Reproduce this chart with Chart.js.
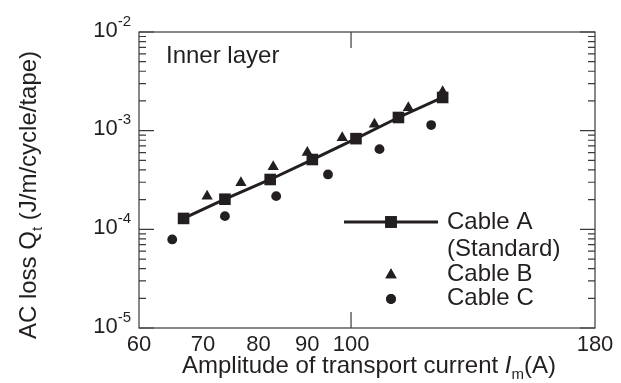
<!DOCTYPE html>
<html>
<head>
<meta charset="utf-8">
<script src="https://cdn.jsdelivr.net/npm/chart.js@4.4.1/dist/chart.umd.min.js"></script>
<style>
  html, body { margin: 0; padding: 0; background: #fff; }
</style>
</head>
<body>
<canvas id="grafica" width="621" height="383"></canvas>
<script>
// Cable A (Standard)
const cableA_I = [66.8, 73.8, 82.3, 91.1, 101.2, 112.1, 124.7];
const cableA_Q = [1.29e-4, 2.02e-4, 3.2e-4, 5.1e-4, 8.3e-4, 1.36e-3, 2.17e-3];
// Cable B
const cableB_I = [70.7, 76.7, 82.9, 90.0, 97.9, 105.8, 114.8, 124.7];
const cableB_Q = [2.17e-4, 2.97e-4, 4.3e-4, 6.0e-4, 8.5e-4, 1.16e-3, 1.71e-3, 2.48e-3];
// Cable C
const cableC_I = [65.0, 73.8, 83.5, 94.6, 107.1, 121.3];
const cableC_Q = [7.9e-5, 1.36e-4, 2.17e-4, 3.6e-4, 6.5e-4, 1.14e-3];

const xTickLabels = [60, 70, 80, 90, 100, 180];
const xMajorTicks = [100];
const yDecades = [-5, -4, -3, -2];

const INK = '#231f20';
const FONT = '"Liberation Sans", Arial, sans-serif';

function toPoints(xs, ys) {
  return xs.map((x, i) => ({ x: x, y: ys[i] }));
}

// draws a run of text pieces [text, size, dy, italic] starting at x
function drawPieces(ctx, pieces, x, y, align) {
  let total = 0;
  pieces.forEach(p => {
    ctx.font = (p[3] ? 'italic ' : '') + p[1] + 'px ' + FONT;
    p.w = ctx.measureText(p[0]).width;
    total += p.w;
  });
  let cx = align === 'center' ? x - total / 2 : (align === 'right' ? x - total : x);
  ctx.textAlign = 'left';
  pieces.forEach(p => {
    ctx.font = (p[3] ? 'italic ' : '') + p[1] + 'px ' + FONT;
    ctx.fillText(p[0], cx, y + (p[2] || 0));
    cx += p.w;
  });
}

const framePlugin = {
  id: 'frame',
  afterDatasetsDraw(chart) {
    const ctx = chart.ctx;
    const a = chart.chartArea;
    const xs = chart.scales.x, ys = chart.scales.y;
    ctx.save();
    ctx.strokeStyle = '#3a3a3a';
    ctx.lineWidth = 1.2;
    ctx.strokeRect(a.left, a.top, a.right - a.left, a.bottom - a.top);

    // y ticks, both sides, pointing in
    ctx.beginPath();
    yDecades.forEach((d, i) => {
      const py = ys.getPixelForValue(Math.pow(10, d));
      ctx.moveTo(a.left, py); ctx.lineTo(a.left + 15, py);
      ctx.moveTo(a.right, py); ctx.lineTo(a.right - 15, py);
      if (i < yDecades.length - 1) {
        for (let m = 2; m <= 9; m++) {
          const pm = ys.getPixelForValue(m * Math.pow(10, d));
          ctx.moveTo(a.left, pm); ctx.lineTo(a.left + 7, pm);
          ctx.moveTo(a.right, pm); ctx.lineTo(a.right - 7, pm);
        }
      }
    });
    xMajorTicks.forEach(v => {
      const px = xs.getPixelForValue(v);
      ctx.moveTo(px, a.bottom); ctx.lineTo(px, a.bottom - 16);
      ctx.moveTo(px, a.top); ctx.lineTo(px, a.top + 16);
    });
    ctx.stroke();

    ctx.fillStyle = INK;
    ctx.textBaseline = 'alphabetic';
    // y tick labels 10^n
    yDecades.forEach(d => {
      const py = ys.getPixelForValue(Math.pow(10, d));
      drawPieces(ctx, [['10', 22, 0], [String(d), 15, -11]], a.left - 8, py + 4.5, 'right');
    });
    // x tick labels
    ctx.font = '22px ' + FONT;
    ctx.textAlign = 'center';
    xTickLabels.forEach(v => {
      ctx.fillText(String(v), xs.getPixelForValue(v), a.bottom + 23);
    });

    // axis titles
    drawPieces(ctx, [['Amplitude of transport current ', 24], ['I', 24, 0, true], ['m', 15, 6], ['(A)', 24]],
      369, a.bottom + 45, 'center');
    ctx.save();
    ctx.translate(36, 195);
    ctx.rotate(-Math.PI / 2);
    drawPieces(ctx, [['AC loss Q', 24], ['t', 15, 6], [' (J/m/cycle/tape)', 24]], 0, 0, 'center');
    ctx.restore();

    // panel label
    ctx.font = '24px ' + FONT;
    ctx.textAlign = 'left';
    ctx.fillText('Inner layer', 166, 63);

    // legend
    ctx.strokeStyle = INK;
    ctx.lineWidth = 3;
    ctx.beginPath();
    ctx.moveTo(344, 222); ctx.lineTo(438, 222);
    ctx.stroke();
    const sets = chart.data.datasets;
    const marks = [[222, 0], [275, 1], [299, 2]];
    marks.forEach(m => {
      const ds = sets[m[1]];
      Chart.helpers.drawPoint(ctx, {
        pointStyle: ds.pointStyle, radius: ds.pointRadius, borderWidth: 0, rotation: 0
      }, 391, m[0]);
      ctx.fillStyle = INK;
      ctx.fill();
    });
    ctx.textBaseline = 'middle';
    ctx.fillStyle = INK;
    ctx.font = '24px ' + FONT;
    ctx.fillText('Cable A', 447, 222);
    ctx.fillText('(Standard)', 447, 249);
    ctx.fillText('Cable B', 447, 274);
    ctx.fillText('Cable C', 447, 298);
    ctx.restore();
  }
};

const ctx = document.getElementById('grafica').getContext('2d');
new Chart(ctx, {
  type: 'scatter',
  data: {
    datasets: [
      {
        label: 'Cable A (Standard)',
        data: toPoints(cableA_I, cableA_Q),
        showLine: true,
        borderColor: INK,
        borderWidth: 3,
        pointStyle: 'rect',
        pointRadius: 8.2,
        pointBackgroundColor: INK,
        pointBorderWidth: 0
      },
      {
        label: 'Cable B',
        data: toPoints(cableB_I, cableB_Q),
        pointStyle: 'triangle',
        pointRadius: 6.5,
        pointBackgroundColor: INK,
        pointBorderColor: INK,
        pointBorderWidth: 0
      },
      {
        label: 'Cable C',
        data: toPoints(cableC_I, cableC_Q),
        pointStyle: 'circle',
        pointRadius: 4.9,
        pointBackgroundColor: INK,
        pointBorderColor: INK,
        pointBorderWidth: 0
      }
    ]
  },
  options: {
    responsive: false,
    animation: false,
    layout: { padding: { left: 139, top: 32, right: 26, bottom: 55 } },
    plugins: { legend: { display: false }, tooltip: { enabled: false } },
    scales: {
      x: { type: 'logarithmic', min: 60, max: 180, display: false },
      y: { type: 'logarithmic', min: 1e-5, max: 1e-2, display: false }
    }
  },
  plugins: [framePlugin]
});
</script>
</body>
</html>
